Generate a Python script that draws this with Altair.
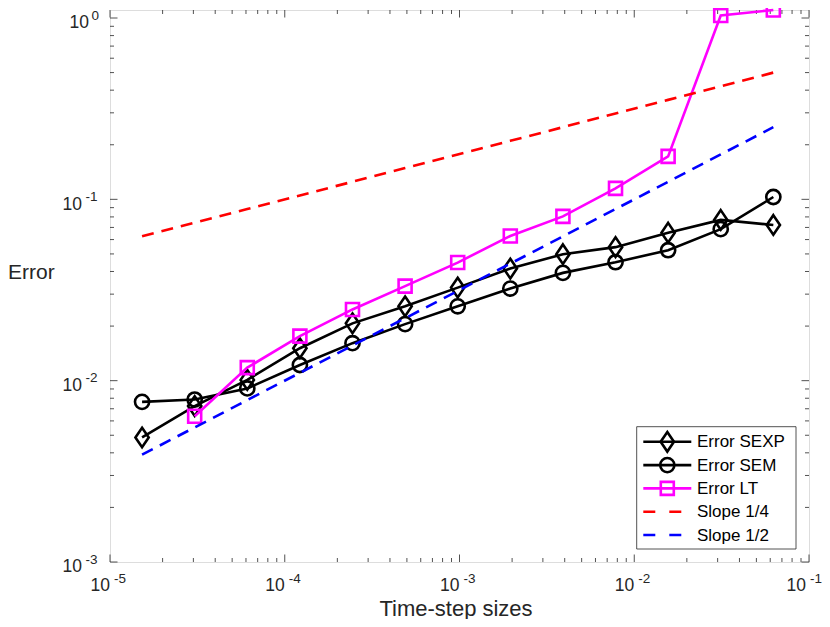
import altair as alt
import pandas as pd

# ---------------- data ----------------
dt = [1.52587890625e-05, 3.0517578125e-05, 6.103515625e-05, 0.0001220703125,
      0.000244140625, 0.00048828125, 0.0009765625, 0.001953125, 0.00390625,
      0.0078125, 0.015625, 0.03125, 0.0625]
err_sexp = [0.00486, 0.00724, 0.0101, 0.0151, 0.0207, 0.0257, 0.0326, 0.0415,
            0.0498, 0.0545, 0.0655, 0.0770, 0.0722]
err_sem = [0.00764, 0.00787, 0.00906, 0.0122, 0.0161, 0.0205, 0.0257, 0.0322,
           0.0393, 0.0450, 0.0524, 0.0685, 0.1030]
dt_lt = dt[1:]
err_lt = [0.00637, 0.0118, 0.0176, 0.0247, 0.0332, 0.0448, 0.0628, 0.0805,
          0.115, 0.1726, 1.033, 1.107]
slope14 = [0.0625, 0.0743, 0.0884, 0.1051, 0.125, 0.1487, 0.1768, 0.2102,
           0.25, 0.2973, 0.3536, 0.4204, 0.5]
slope12 = [0.00390625, 0.005524, 0.0078125, 0.011049, 0.015625, 0.022097,
           0.03125, 0.044194, 0.0625, 0.088388, 0.125, 0.176777, 0.25]

x_major = [1e-5, 1e-4, 1e-3, 1e-2]
x_exp = ["-5", "-4", "-3", "-2"]
x_last_major = [1e-1]
x_last_exp = ["-1"]
y_major = [1e-3, 1e-2, 1e-1]
y_exp = ["-3", "-2", "-1"]
y_top_major = [1.0]
y_top_exp = ["0"]
minor_mult = [2, 3, 4, 5, 6, 7, 8, 9]
x_decades = [1e-5, 1e-4, 1e-3, 1e-2]
y_decades = [1e-3, 1e-2, 1e-1]

legend_names = ["Error SEXP", "Error SEM", "Error LT", "Slope 1/4", "Slope 1/2"]
x_title = "Time-step sizes"
y_title = "Error"

# ---------------- style ----------------
W, H = 699, 552
FONT = "Liberation Sans"
AX = "#262626"
BLACK = "#000000"
MAG = "#FF00FF"
RED = "#FF0000"
BLUE = "#0000FF"
LW = 2.6
DASH = [12, 8]
DIAMOND = "M0,-1.4L0.95,0L0,1.4L-0.95,0Z"
MAJ, MIN = 7.5, 4

xs = alt.Scale(type="log", domain=[1e-5, 1e-1], nice=False)
ys = alt.Scale(type="log", domain=[1e-3, 1.107], nice=False)


def X(f):
    return alt.X(f + ":Q", scale=xs, axis=None)


def Y(f):
    return alt.Y(f + ":Q", scale=ys, axis=None)


layers = []

# ---- ticks ----
x_minor = [m * d for d in x_decades for m in minor_mult]
y_minor = [m * d for d in y_decades for m in minor_mult]
xmaj_df = pd.DataFrame({"v": x_major, "base": ["10"] * len(x_major), "exp": x_exp})
xlast_df = pd.DataFrame({"v": x_last_major, "base": ["10"], "exp": x_last_exp})
xallmaj_df = pd.DataFrame({"v": x_major + x_last_major})
xmin_df = pd.DataFrame({"v": x_minor})
ymaj_df = pd.DataFrame({"v": y_major, "base": ["10"] * len(y_major), "exp": y_exp})
ytop_df = pd.DataFrame({"v": y_top_major, "base": ["10"], "exp": y_top_exp})
ymin_df = pd.DataFrame({"v": y_minor})
yallmaj_df = pd.DataFrame({"v": y_major + y_top_major})

for df, ln in [(xallmaj_df, MAJ), (xmin_df, MIN)]:
    layers.append(alt.Chart(df).mark_rule(color=AX, strokeWidth=0.8).encode(
        x=X("v"), y=alt.value(H), y2=alt.value(H - ln)))
    layers.append(alt.Chart(df).mark_rule(color=AX, strokeWidth=0.8).encode(
        x=X("v"), y=alt.value(0), y2=alt.value(ln)))
for df, ln in [(yallmaj_df, MAJ), (ymin_df, MIN)]:
    layers.append(alt.Chart(df).mark_rule(color=AX, strokeWidth=0.8).encode(
        y=Y("v"), x=alt.value(0), x2=alt.value(ln)))
    layers.append(alt.Chart(df).mark_rule(color=AX, strokeWidth=0.8).encode(
        y=Y("v"), x=alt.value(W), x2=alt.value(W - ln)))

# ---- tick labels ----
for df, shift in [(xmaj_df, 0), (xlast_df, -3)]:
    layers.append(alt.Chart(df).mark_text(
        font=FONT, fontSize=17.5, color=AX, align="right", baseline="alphabetic",
        dx=shift).encode(x=X("v"), y=alt.value(581.3), text="base:N"))
    layers.append(alt.Chart(df).mark_text(
        font=FONT, fontSize=13.5, color=AX, align="left", baseline="alphabetic",
        dx=4 + shift).encode(x=X("v"), y=alt.value(573), text="exp:N"))
layers.append(alt.Chart(ymaj_df).mark_text(
    font=FONT, fontSize=17.5, color=AX, align="right", baseline="alphabetic", dy=10.3).encode(
    y=Y("v"), x=alt.value(-28), text="base:N"))
layers.append(alt.Chart(ymaj_df).mark_text(
    font=FONT, fontSize=13.5, color=AX, align="right", baseline="alphabetic", dy=1.7).encode(
    y=Y("v"), x=alt.value(-12.5), text="exp:N"))
layers.append(alt.Chart(ytop_df).mark_text(
    font=FONT, fontSize=17.5, color=AX, align="right", baseline="alphabetic", dy=10.3).encode(
    y=Y("v"), x=alt.value(-21), text="base:N"))
layers.append(alt.Chart(ytop_df).mark_text(
    font=FONT, fontSize=13.5, color=AX, align="right", baseline="alphabetic", dy=1.7).encode(
    y=Y("v"), x=alt.value(-11), text="exp:N"))

# ---- axis titles ----
title_df = pd.DataFrame({"t": [x_title]})
layers.append(alt.Chart(title_df).mark_text(
    font=FONT, fontSize=22, color=AX, align="center", baseline="alphabetic").encode(
    x=alt.value(346), y=alt.value(605.5), text="t:N"))
ytitle_df = pd.DataFrame({"t": [y_title]})
layers.append(alt.Chart(ytitle_df).mark_text(
    font=FONT, fontSize=21, color=AX, align="left", baseline="alphabetic").encode(
    x=alt.value(-102), y=alt.value(269.3), text="t:N"))

# ---- data series ----
sexp_df = pd.DataFrame({"dt": dt, "e": err_sexp})
sem_df = pd.DataFrame({"dt": dt, "e": err_sem})
lt_df = pd.DataFrame({"dt": dt_lt, "e": err_lt})
s14_df = pd.DataFrame({"dt": dt, "e": slope14})
s12_df = pd.DataFrame({"dt": dt, "e": slope12})

series = [
    (sexp_df, BLACK, DIAMOND, 196),
    (sem_df, BLACK, "circle", 201),
    (lt_df, MAG, "square", 169),
]
for df, col, shp, sz in series:
    layers.append(alt.Chart(df).mark_line(color=col, strokeWidth=LW).encode(
        x=X("dt"), y=Y("e")))
    layers.append(alt.Chart(df).mark_point(
        shape=shp, size=sz, filled=False, color=col, strokeWidth=LW, opacity=1).encode(
        x=X("dt"), y=Y("e")))
for df, col in [(s14_df, RED), (s12_df, BLUE)]:
    layers.append(alt.Chart(df).mark_line(color=col, strokeWidth=LW, strokeDash=DASH).encode(
        x=X("dt"), y=Y("e")))

# ---- legend (manual, MATLAB style) ----
LX0, LX1, LY0, LY1 = 526.7, 686.0, 416.7, 539.0
ROW0, ROWSTEP = 431.8, 23.3
SYM0, SYM1, SYMC, TXT = 533.3, 581.3, 557.3, 587.0
box_df = pd.DataFrame({"k": [0]})
layers.append(alt.Chart(box_df).mark_rect(
    fill="white", stroke=AX, strokeWidth=0.8).encode(
    x=alt.value(LX0), x2=alt.value(LX1), y=alt.value(LY0), y2=alt.value(LY1)))

leg_style = [
    (BLACK, None, DIAMOND, 196),
    (BLACK, None, "circle", 201),
    (MAG, None, "square", 169),
    (RED, [12, 14], None, 0),
    (BLUE, [12, 14], None, 0),
]
for i, (name, (col, dash, shp, sz)) in enumerate(zip(legend_names, leg_style)):
    ry = ROW0 + i * ROWSTEP
    ldf = pd.DataFrame({"name": [name]})
    rule_kw = dict(color=col, strokeWidth=LW)
    if dash:
        rule_kw["strokeDash"] = dash
    layers.append(alt.Chart(ldf).mark_rule(**rule_kw).encode(
        x=alt.value(SYM0), x2=alt.value(SYM1), y=alt.value(ry)))
    if shp:
        layers.append(alt.Chart(ldf).mark_point(
            shape=shp, size=sz, filled=False, color=col, strokeWidth=LW, opacity=1).encode(
            x=alt.value(SYMC), y=alt.value(ry)))
    layers.append(alt.Chart(ldf).mark_text(
        font=FONT, fontSize=17, color=BLACK, align="left", baseline="middle").encode(
        x=alt.value(TXT), y=alt.value(ry + 0.5), text="name:N"))

chart = alt.layer(*layers).properties(
    width=W, height=H,
    padding={"left": 102, "top": 2, "right": 13, "bottom": 57},
    autosize=alt.AutoSizeParams(type="none"),
).configure_view(stroke=AX, strokeWidth=1).configure(background="white")

chart.save("out.html", embed_options={"renderer": "svg", "actions": False})
